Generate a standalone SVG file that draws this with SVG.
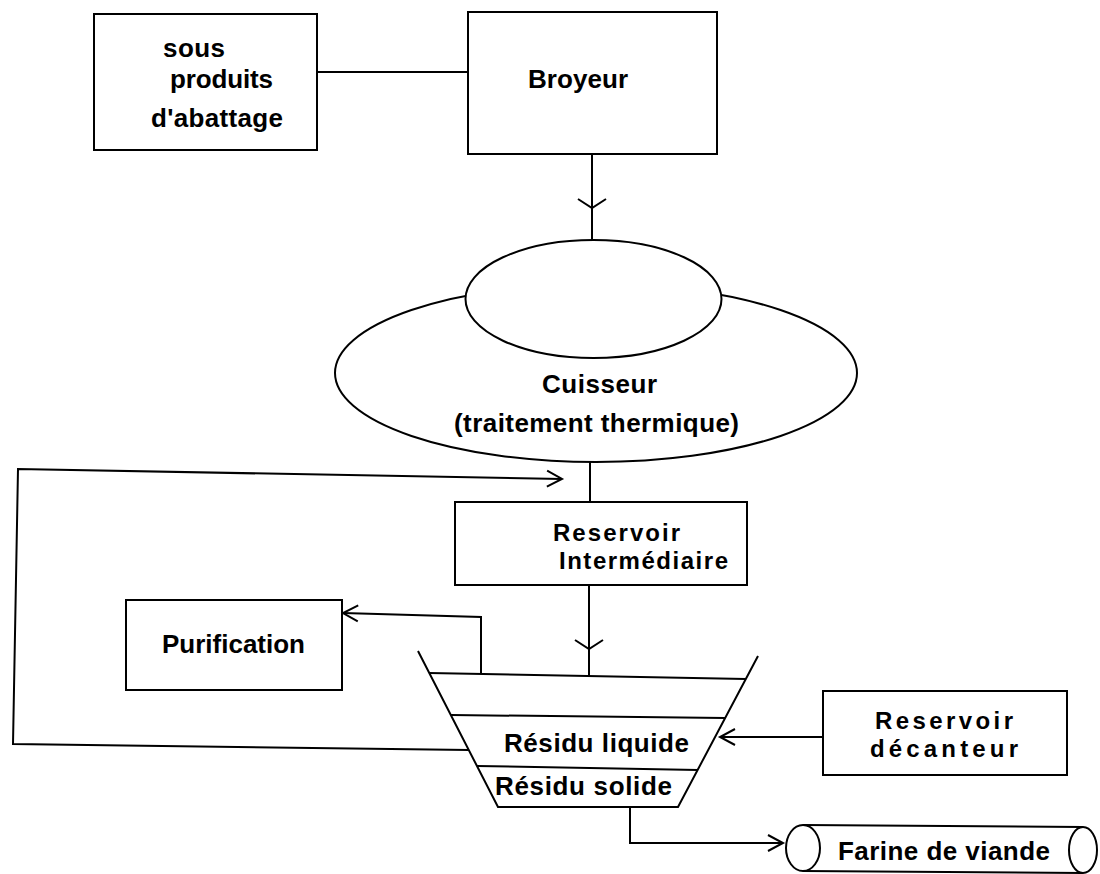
<svg xmlns="http://www.w3.org/2000/svg" width="1100" height="874" viewBox="0 0 1100 874">
<style>
.s{fill:none;stroke:#000;stroke-width:2}
.w{fill:#fff;stroke:#000;stroke-width:2}
text{font-family:"Liberation Sans",Arial,sans-serif;font-weight:bold;font-size:26px;fill:#000}
text.t{font-size:24px}
</style>
<defs>
<marker id="arr" markerUnits="userSpaceOnUse" viewBox="-18 -12 20 24" markerWidth="20" markerHeight="24" refX="0" refY="0" orient="auto" overflow="visible">
<path d="M-15,-8 L0,0 L-15,8" fill="none" stroke="#000" stroke-width="2"/>
</marker>
<marker id="mid" markerUnits="userSpaceOnUse" viewBox="-12 -16 14 32" markerWidth="14" markerHeight="32" refX="0" refY="0" orient="auto" overflow="visible">
<path d="M-9,-14 L0,0 L-9,14" fill="none" stroke="#000" stroke-width="2"/>
</marker>
</defs>
<rect width="1100" height="874" fill="#fff"/>

<g id="connectors">
<path class="s" d="M317,72 L468,72"/>
<path class="s" d="M592,154 L592,208 L592,240" marker-mid="url(#mid)"/>
<path class="s" d="M590,462 L590,502"/>
<path class="s" d="M469,750 L13,744 L18,469 L562,479" marker-end="url(#arr)"/>
<path class="s" d="M589,585 L589,649 L589,677" marker-mid="url(#mid)"/>
<path class="s" d="M481,674 L481,617 L343,613" marker-end="url(#arr)"/>
<path class="s" d="M823,737 L720,737" marker-end="url(#arr)"/>
<path class="s" d="M630,807 L630,843 L783,843" marker-end="url(#arr)"/>
</g>

<g id="sous-produits">
<rect class="s" x="94" y="14" width="223" height="136"/>
<text x="163" y="57" textLength="62" lengthAdjust="spacing">sous</text>
<text x="170" y="88" textLength="103" lengthAdjust="spacing">produits</text>
<text x="151" y="127" textLength="132" lengthAdjust="spacing">d'abattage</text>
</g>

<g id="broyeur">
<rect class="s" x="468" y="12" width="249" height="142"/>
<text x="528" y="88" textLength="100" lengthAdjust="spacing">Broyeur</text>
</g>

<g id="cuisseur">
<ellipse class="s" cx="596" cy="373" rx="261" ry="89"/>
<ellipse class="w" cx="593.5" cy="299" rx="128" ry="59"/>
<text x="542" y="393" textLength="115" lengthAdjust="spacing">Cuisseur</text>
<text x="454" y="432" textLength="285" lengthAdjust="spacing">(traitement thermique)</text>
</g>

<g id="reservoir-intermediaire">
<rect class="s" x="455" y="502" width="292" height="83"/>
<text class="t" x="553" y="541" textLength="127" lengthAdjust="spacing">Reservoir</text>
<text class="t" x="559" y="569" textLength="169" lengthAdjust="spacing">Intermédiaire</text>
</g>

<g id="purification">
<rect class="s" x="126" y="600" width="216" height="90"/>
<text x="162" y="653" textLength="143" lengthAdjust="spacing">Purification</text>
</g>

<g id="decanteur-cuve">
<path class="s" d="M418,651 L498,807 L678,807 L758,656"/>
<path class="s" d="M429,673 L746,679"/>
<path class="s" d="M451,715 L725,718"/>
<path class="s" d="M477,766 L698,770"/>
<text x="504" y="752" textLength="185" lengthAdjust="spacing">Résidu liquide</text>
<text x="495" y="795" textLength="177" lengthAdjust="spacing">Résidu solide</text>
</g>

<g id="reservoir-decanteur">
<rect class="s" x="823" y="691" width="244" height="84"/>
<text class="t" x="875" y="729" textLength="138" lengthAdjust="spacing">Reservoir</text>
<text class="t" x="870" y="757" textLength="148" lengthAdjust="spacing">décanteur</text>
</g>

<g id="farine">
<path class="s" d="M803,825 L1083,827 M803,871 L1083,873"/>
<ellipse class="w" cx="803" cy="848" rx="17" ry="23"/>
<ellipse class="w" cx="1083" cy="850" rx="14" ry="23"/>
<text x="838" y="860" textLength="212" lengthAdjust="spacing">Farine de viande</text>
</g>
</svg>
